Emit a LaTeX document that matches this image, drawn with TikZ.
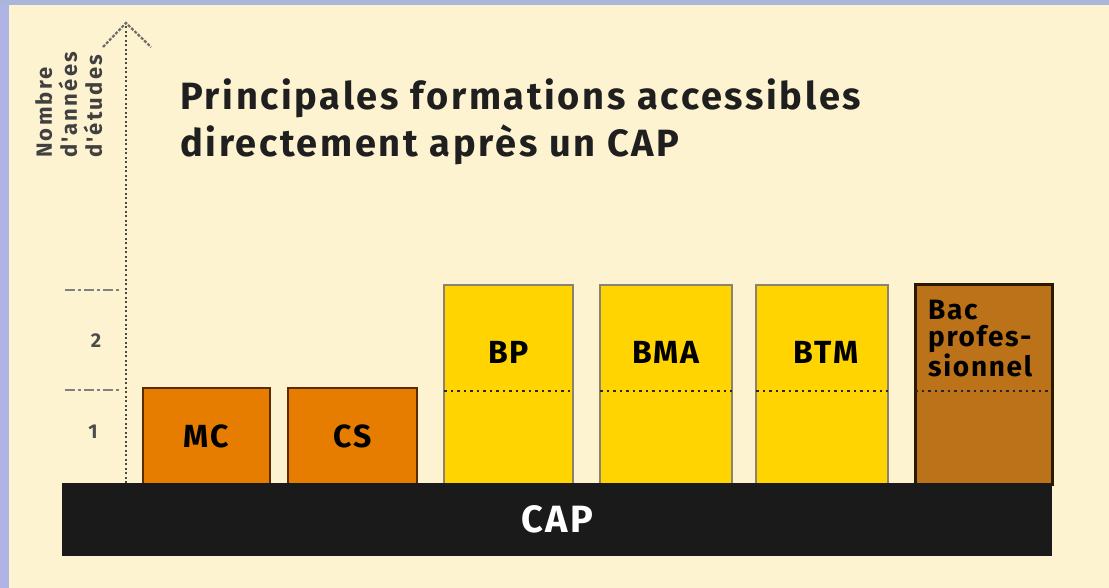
\documentclass[tikz,border=0pt]{standalone}
\usepackage{fontspec}
\setmainfont{Fira Sans}
\newfontfamily\widefont[LetterSpace=6]{Fira Sans}
\newfontfamily\titlefont[LetterSpace=7]{Fira Sans}
\newfontfamily\widerfont[LetterSpace=10]{Fira Sans}
\usetikzlibrary{calc}
\definecolor{bgcream}{HTML}{FEF3D1}
\definecolor{frameL}{HTML}{B0B4E4}
\definecolor{frameT}{HTML}{AAB7DB}
\definecolor{orangebox}{HTML}{E67C00}
\definecolor{orangeedge}{HTML}{5A2C00}
\definecolor{yellowbox}{HTML}{FFD400}
\definecolor{yellowedge}{HTML}{8A8370}
\definecolor{brownbox}{HTML}{BC7218}
\definecolor{brownedge}{HTML}{2A1800}
\definecolor{barblack}{HTML}{1A1A1A}
\definecolor{axisgray}{HTML}{4A4A44}
\tikzset{
  boxbase/.style={rectangle, inner sep=0pt, outer sep=0pt, anchor=north west, line width=2.5pt},
  shortbox/.style={boxbase, fill=orangebox, draw=orangeedge, minimum height=96pt,
    font=\widefont\fontsize{32}{32}\selectfont\bfseries, text=black},
  tallbox/.style={boxbase, fill=yellowbox, draw=yellowedge, minimum height=199pt},
  bacbox/.style={boxbase, fill=brownbox, draw=brownedge, line width=3pt, minimum height=199pt},
  boxlabel/.style={inner sep=0pt, font=\widefont\fontsize{32}{32}\selectfont\bfseries, text=black},
  boxdots/.style={line width=2pt, dash pattern=on 2.5pt off 4pt, draw=black!85},
  axisline/.style={line width=2pt, dash pattern=on 2pt off 2.5pt, draw=axisgray},
  tickline/.style={line width=2pt, dash pattern=on 10pt off 3pt on 3pt off 3pt, draw=axisgray!70},
  ticklabel/.style={inner sep=0pt, font=\fontsize{20}{20}\selectfont\bfseries, text=black!70},
  titletext/.style={inner sep=0pt, anchor=base west, font=\titlefont\fontsize{38}{44}\selectfont\bfseries, text=black!88},
}
\begin{document}
\begin{tikzpicture}[x=1pt,y=-1pt]
\useasboundingbox (0,0) rectangle (1109,588);
% background and frame
\fill[bgcream] (0,0) rectangle (1109,588);
\fill[frameL] (0,0) rectangle (9,588);
\fill[frameT] (0,0) rectangle (1109,5);

% y axis
\coordinate (axbot) at (126,483);
\coordinate (axtop) at (126,23);
\coordinate (arl) at (103,47);
\coordinate (arr) at (151,47);
\draw[axisline] (axbot) -- (axtop);
\draw[axisline, dash pattern=on 3pt off 1.5pt, line width=2.2pt, draw=axisgray!80] (arl) -- (axtop) -- (arr);

\node[rotate=90, anchor=north west, align=left, inner sep=0pt,
      font=\widerfont\fontsize{22}{25}\selectfont\bfseries, text=black!75] (ylab) at (35,158)
  {Nombre\\d'années\\d'études};

% ticks
\coordinate (t2a) at (65,290); \coordinate (t2b) at (122,290);
\coordinate (t1a) at (65,390); \coordinate (t1b) at (122,390);
\draw[tickline] (t2a) -- (t2b);
\draw[tickline] (t1a) -- (t1b);
\node[ticklabel] (two) at (96,341) {2};
\node[ticklabel] (one) at (93,432) {1};

% title
\node[titletext] (title1) at (180,110) {Principales formations accessibles};
\node[titletext] (title2) at (180,157) {directement après un CAP};

% boxes
\node[shortbox, minimum width=127pt] (mc) at (143,388) {MC};
\node[shortbox, minimum width=129pt] (cs) at (288,388) {CS};
\node[tallbox, minimum width=129pt] (bp) at (444,285) {};
\node[tallbox, minimum width=132pt] (bma) at (600,285) {};
\node[tallbox, minimum width=132pt] (btm) at (756,285) {};
\node[bacbox, minimum width=137pt] (bac) at (915,285) {};

\foreach \b in {bp,bma,btm,bac}{
  \draw[boxdots] ([yshift=-106pt]\b.north west) -- ([yshift=-106pt]\b.north east);
}
\node[boxlabel] (bpl) at ([yshift=-67pt]bp.north) {BP};
\node[boxlabel] (bmal) at ([yshift=-67pt]bma.north) {BMA};
\node[boxlabel] (btml) at ([xshift=4pt,yshift=-67pt]btm.north) {BTM};
\node[anchor=north west, align=left, inner sep=0pt,
      font=\widefont\fontsize{28}{27}\selectfont\bfseries, text=black] (bacl)
  at ([xshift=13pt,yshift=-15pt]bac.north west) {Bac\\profes-\\sionnel};

% CAP bar
\node[rectangle, fill=barblack, inner sep=0pt, outer sep=0pt, anchor=north west,
      minimum width=990pt, minimum height=73pt, text=white,
      font=\widefont\fontsize{38}{38}\selectfont\bfseries] (cap) at (62,483) {CAP};
\end{tikzpicture}
\end{document}
